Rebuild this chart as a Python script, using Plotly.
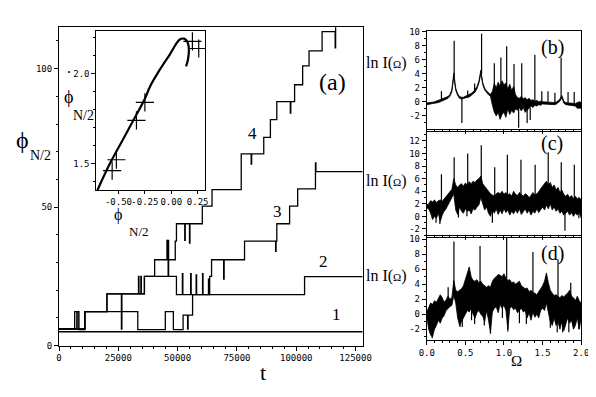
import plotly.graph_objects as go

W, H = 596, 397
# the page body keeps its default 8 px margin, so the figure starts at (8, 8)
OFF = 8
FW, FH = W - OFF, H - OFF

# ---- panel (a): phi_{N/2} against t, four step curves ----
curve1_t = [0, 128000]
curve1_v = [5.0, 5.0]

curve2_t = [0, 10900, 20200, 26300, 26500, 33500, 33700, 34500, 34700, 36000, 46000, 46200, 49500,
            52000, 52200, 55500, 55700, 57800, 58000, 60500, 60700, 63000, 63200, 103500, 128000]
curve2_v = [6.0, 12.3, 18.7, 6.0, 18.7, 25.0, 18.7, 25.0, 18.7, 25.0, 38.0, 25.0, 18.4,
            26.0, 18.4, 26.0, 18.4, 25.5, 18.4, 26.0, 18.4, 24.0, 18.4, 24.9, 24.9]

curve3_t = [0, 7500, 8400, 10900, 33200, 44800, 48200, 52300, 54200, 54400, 56300, 63500, 64300,
            69400, 69600, 78200, 91300, 91500, 91800, 97200, 100600, 108100, 108300, 128000]
curve3_v = [6.0, 12.3, 5.8, 12.3, 5.8, 12.3, 5.8, 11.0, 6.0, 11.0, 18.4, 25.0, 31.0,
            24.0, 31.0, 37.7, 34.0, 37.7, 44.0, 50.4, 56.6, 66.0, 62.8, 62.8]

curve4_t = [0, 6600, 8000, 10900, 20200, 36000, 40300, 45500, 45700, 49000,
            49500, 53000, 53200, 55000, 55200, 60400, 64500, 76800, 81000, 81200,
            86300, 89100, 91800, 97500, 97700, 99300, 102700, 105400, 110900, 116400,
            116600, 128000]
curve4_v = [6.0, 12.3, 6.0, 12.3, 18.7, 25.0, 31.0, 38.0, 31.0, 37.7,
            44.0, 38.0, 44.0, 37.0, 44.0, 50.4, 56.3, 69.2, 65.5, 69.2,
            75.2, 81.6, 88.1, 84.0, 88.1, 94.2, 101.0, 106.4, 113.4, 107.5,
            120.0, 120.0]

t_ticks = [0, 25000, 50000, 75000, 100000, 125000]
phi_ticks = [0, 50, 100]

# inset: phi_dot_{N/2} against phi_{N/2}
inset_x = [-0.70, -0.58, -0.46, -0.35, -0.25, -0.20, -0.10, -0.01, 0.04, 0.08,
           0.12, 0.15, 0.165, 0.165, 0.155, 0.14]
inset_y = [1.35, 1.50, 1.63, 1.75, 1.86, 1.93, 2.03, 2.11, 2.16, 2.19,
           2.195, 2.18, 2.15, 2.11, 2.07, 2.04]
cross_x = [-0.56, -0.52, -0.33, -0.25, 0.20, 0.26]
cross_y = [1.46, 1.52, 1.74, 1.84, 2.18, 2.14]
inset_xticks = [-0.5, -0.25, 0.0, 0.25]

# ---- panels (b)-(d): ln I(Omega) ----
omega = [0.0, 0.025, 0.05, 0.075, 0.1, 0.125, 0.15, 0.175, 0.2, 0.225,
         0.25, 0.275, 0.3, 0.325, 0.35, 0.375, 0.4, 0.425, 0.45, 0.475,
         0.5, 0.525, 0.55, 0.575, 0.6, 0.625, 0.65, 0.675, 0.7, 0.725,
         0.75, 0.775, 0.8, 0.825, 0.85, 0.875, 0.9, 0.925, 0.95, 0.975,
         1.0, 1.025, 1.05, 1.075, 1.1, 1.125, 1.15, 1.175, 1.2, 1.225,
         1.25, 1.275, 1.3, 1.325, 1.35, 1.375, 1.4, 1.425, 1.45, 1.475,
         1.5, 1.525, 1.55, 1.575, 1.6, 1.625, 1.65, 1.675, 1.7, 1.725,
         1.75, 1.775, 1.8, 1.825, 1.85, 1.875, 1.9, 1.925, 1.95, 1.975,
         2.0]

b_upper = [-0.15, -0.15, -0.10, -0.05, 0.00, 0.10, 0.15, 0.25, 0.35, 0.45,
           0.60, 0.75, 1.05, 1.75, 4.10, 1.95, 1.15, 0.75, 0.65, 0.65,
           0.80, 0.90, 1.00, 1.20, 1.40, 1.70, 2.15, 2.95, 4.50, 2.75,
           1.95, 1.55, 1.25, 1.05, 1.50, 2.60, 2.00, 2.80, 2.20, 3.00,
           2.40, 2.70, 1.80, 2.50, 1.60, 2.20, 1.00, 0.60, 0.50, 0.80,
           0.40, 0.60, 0.30, 0.50, 0.20, 0.30, 0.10, 0.20, 0.00, 0.10,
           0.00, 0.00, 0.05, -0.05, -0.05, -0.10, -0.10, -0.05, 0.15, 0.40,
           0.90, 0.10, -0.10, -0.15, -0.20, -0.20, -0.25, -0.25, -0.10, 0.00,
           -0.10]
b_lower = [-0.40, -0.40, -0.35, -0.30, -0.25, -0.15, -0.10, 0.00, 0.10, 0.20,
           0.35, 0.50, 0.80, 1.45, 3.60, 1.65, 0.90, 0.50, 0.40, 0.40,
           0.55, 0.60, 0.70, 0.90, 1.10, 1.40, 1.85, 2.65, 4.00, 2.45,
           1.70, 1.30, 1.00, 0.80, -0.50, -1.50, -2.00, -1.50, -2.50, -1.80,
           -1.50, -2.20, -1.00, -1.80, -1.20, -1.60, -1.00, -1.20, -0.80, -1.30,
           -0.80, -1.50, -1.20, -0.90, -0.60, -0.80, -0.50, -0.60, -0.40, -0.50,
           -0.30, -0.30, -0.30, -0.35, -0.35, -0.40, -0.40, -0.35, -0.15, 0.10,
           0.60, -0.20, -0.40, -0.45, -0.50, -0.50, -0.55, -0.60, -0.90, -0.90,
           -0.90]
b_spike_pos = [0.19, 0.355, 0.455, 0.53, 0.62, 0.71, 0.875, 0.96, 1.035, 1.13, 1.19,
               1.23, 1.30, 1.34, 1.40, 1.49, 1.57, 1.66, 1.74, 1.83, 1.91]
b_spike_from = [0.2, 3.5, 0.5, 0.7, 1.3, 4.0, 1.0, 1.0, 1.5, 0.5, -0.8,
                0.0, -0.8, -0.8, 0.0, 0.0, 0.0, -0.1, 0.5, -0.1, -0.2]
b_spike_to = [1.5, 8.7, -3.0, 1.6, 2.6, 9.7, 5.5, 6.3, 7.9, 5.4, -3.7,
              5.5, -3.0, -2.6, 6.7, 1.5, 1.5, 1.3, 6.3, 1.4, 1.4]

c_upper = [1.8, 2.0, 2.5, 2.3, 2.6, 2.2, 2.5, 2.6, 2.4, 2.8,
           3.2, 3.6, 4.0, 4.3, 6.0, 5.0, 4.6, 5.0, 5.2, 4.8,
           5.3, 5.0, 5.5, 5.2, 5.6, 5.4, 5.8, 6.0, 6.4, 5.2,
           4.8, 4.4, 4.0, 3.6, 3.4, 3.2, 3.6, 3.8, 3.6, 4.0,
           3.5, 3.8, 3.4, 3.6, 3.2, 4.0, 3.5, 3.3, 3.8, 3.5,
           3.2, 3.6, 3.4, 3.0, 3.3, 3.8, 3.4, 3.6, 3.9, 4.4,
           4.8, 5.2, 5.6, 5.0, 5.4, 4.6, 5.0, 4.2, 4.6, 3.8,
           4.2, 3.5, 3.2, 3.5, 3.0, 3.3, 2.8, 3.2, 2.8, 3.0,
           2.6]
c_lower = [1.3, 1.2, 0.5, -0.5, 0.0, -0.3, 0.5, -0.8, 0.2, 0.8,
           1.2, 1.8, 2.5, 3.0, 3.5, 1.0, 0.3, 1.5, 0.8, 0.5,
           1.2, 0.8, 1.0, 0.4, 1.2, 1.0, 1.5, 1.8, 3.0, 2.2,
           1.0, 1.5, 0.5, 0.0, 1.0, 0.5, 1.2, 0.3, 1.0, 0.4,
           1.2, 0.6, 1.0, 0.2, 0.8, 0.4, 1.0, 0.5, 1.2, 0.3,
           0.8, 1.2, 0.5, 1.0, 0.2, 0.8, 0.5, 1.2, 0.6, 1.0,
           1.5, 1.0, 1.8, 1.2, 2.0, 1.0, 1.5, 0.8, 1.2, 0.5,
           0.8, 0.2, 0.5, 0.8, 0.2, 0.6, 0.0, 0.5, 0.2, 0.6,
           -0.2]
c_spike_pos = [0.19, 0.355, 0.53, 0.706, 0.88, 1.044, 1.22, 1.404, 1.573, 1.742, 1.911,
               0.12, 0.17, 0.85, 1.79, 0.52, 0.41, 1.97]
c_spike_from = [2.0, 4.0, 3.0, 4.0, 2.0, 2.0, 2.0, 2.0, 3.0, 2.0, 1.5,
                1.0, 1.0, 1.5, 1.0, 1.5, 1.5, 1.0]
c_spike_to = [6.7, 9.4, 10.0, 11.3, 7.8, 9.8, 9.0, 8.2, 10.2, 8.6, 8.2,
              -1.0, -1.2, -1.0, -2.3, 0.0, -0.2, -0.3]

d_upper = [0.3, 1.0, 1.5, 1.3, 1.8, 1.6, 2.2, 2.6, 2.2, 1.6,
           1.9, 2.4, 2.0, 2.2, 4.5, 3.2, 3.0, 3.2, 3.4, 3.8,
           4.6, 5.6, 6.3, 5.0, 4.5, 4.4, 4.6, 4.2, 4.4, 4.0,
           3.8, 3.6, 3.8, 3.6, 4.4, 4.8, 5.0, 5.3, 5.2, 5.0,
           5.4, 4.8, 4.5, 4.6, 4.2, 4.3, 4.0, 4.2, 4.4, 3.8,
           3.6, 3.4, 3.5, 3.0, 3.2, 2.9, 2.8, 2.6, 3.0, 3.4,
           3.8, 4.4, 5.5, 4.2, 3.2, 2.8, 2.5, 2.6, 2.4, 2.2,
           2.5, 2.3, 2.6, 2.8, 3.2, 2.4, 2.2, 1.8, 2.4, 1.8,
           1.5]
d_lower = [-0.3, -2.0, -2.8, -3.0, -2.0, -1.5, -0.8, -1.2, -0.5, -0.2,
           0.5, 0.8, 1.0, 1.2, 2.5, 1.5, -0.5, -1.5, -1.0, -0.5,
           0.0, 0.5, 0.3, 0.8, 0.0, -0.5, 0.2, 0.5, 0.0, -0.3,
           -1.0, 0.5, -0.8, -2.4, 0.3, 0.8, 1.0, 0.2, 1.3, 0.8,
           1.2, 0.5, -2.0, 0.8, 1.0, 0.6, 0.8, 0.2, 0.5, 0.8,
           0.3, 0.5, -0.5, 0.2, -0.8, 0.3, -0.4, 0.0, -0.5, 0.5,
           0.8, 0.5, 1.5, 0.2, -1.0, -1.5, -0.5, -1.5, -1.0, -2.0,
           -1.0, -2.2, -1.5, -0.5, -1.2, -0.8, -2.0, -1.5, -0.5, -2.0,
           -0.5]
d_spike_pos = [0.277, 0.352, 0.69, 1.035, 1.375, 1.70, 1.865, 0.43, 0.46, 0.62, 0.745, 0.825,
               1.05, 1.20, 1.29, 1.60, 1.69, 1.76, 1.84, 1.97, 0.07, 0.58, 0.98]
d_spike_from = [1.5, 3.0, 2.0, 3.0, 2.0, 1.0, 1.5, 1.0, 1.0, 1.0, 1.0, 1.0,
                2.0, 1.0, 1.0, 0.5, 0.5, 0.5, 0.5, 0.5, 0.0, 2.0, 2.0]
d_spike_to = [3.6, 9.7, 9.1, 10.3, 8.3, 7.3, 4.2, -1.7, -1.7, -1.3, -1.5, -2.6,
              -2.3, -1.2, -1.3, -1.8, -2.4, -2.4, -2.4, -2.0, -3.2, -0.8, -0.5]

omega_ticks = [0.0, 0.5, 1.0, 1.5, 2.0]


def band(up, lo, xa, ya):
    return go.Scatter(x=omega + omega[::-1], y=up + lo[::-1], xaxis=xa, yaxis=ya,
                      mode="lines", fill="toself", fillcolor="black",
                      line=dict(color="black", width=0.8), hoverinfo="skip")


def spikes(pos, lo, hi, xa, ya):
    xs, ys = [], []
    for p, a, b in zip(pos, lo, hi):
        xs += [p, p, None]
        ys += [a, b, None]
    return go.Scatter(x=xs, y=ys, xaxis=xa, yaxis=ya, mode="lines",
                      line=dict(color="black", width=1.2), hoverinfo="skip")


fig = go.Figure()
for tt, vv in [(curve1_t, curve1_v), (curve2_t, curve2_v), (curve3_t, curve3_v), (curve4_t, curve4_v)]:
    fig.add_trace(go.Scatter(x=tt, y=vv, mode="lines", line_shape="hv",
                             line=dict(color="black", width=1.3), xaxis="x", yaxis="y"))

fig.add_trace(go.Scatter(x=inset_x, y=inset_y, mode="lines", line_shape="spline",
                         line=dict(color="black", width=2.2), xaxis="x2", yaxis="y2"))
fig.add_trace(go.Scatter(x=cross_x, y=cross_y, mode="markers", xaxis="x2", yaxis="y2",
                         marker=dict(symbol="cross-thin", size=13,
                                     line=dict(color="black", width=1.2))))

fig.add_trace(band(b_upper, b_lower, "x3", "y3"))
fig.add_trace(spikes(b_spike_pos, b_spike_from, b_spike_to, "x3", "y3"))
fig.add_trace(band(c_upper, c_lower, "x4", "y4"))
fig.add_trace(spikes(c_spike_pos, c_spike_from, c_spike_to, "x4", "y4"))
fig.add_trace(band(d_upper, d_lower, "x5", "y5"))
fig.add_trace(spikes(d_spike_pos, d_spike_from, d_spike_to, "x5", "y5"))

tick_font = dict(family="DejaVu Sans Mono", size=9, color="black")
axis_style = dict(showline=True, linecolor="black", linewidth=1, mirror=True,
                  ticks="outside", tickcolor="black", ticklen=4, tickwidth=1, tickangle=0,
                  showgrid=False, zeroline=False, tickfont=tick_font)


# positions below are read in page pixels of the reference picture
def dom_x(a, b):
    return [(a - OFF) / FW, (b - OFF) / FW]


def dom_y(top, bottom):
    return [1 - (bottom - OFF) / FH, 1 - (top - OFF) / FH]


def minor(step, ln=2):
    return dict(dtick=step, ticks="outside", ticklen=ln, tickcolor="black", showgrid=False)


fig.update_layout(
    width=FW, height=FH, autosize=False, showlegend=False,
    margin=dict(l=0, r=0, t=0, b=0),
    paper_bgcolor="white", plot_bgcolor="white",
    xaxis=dict(axis_style, domain=dom_x(52.3, 365), anchor="y", range=[0, 128000],
               tickvals=t_ticks, ticktext=[str(v) for v in t_ticks], minor=minor(5000)),
    yaxis=dict(axis_style, domain=dom_y(23.5, 349.5), anchor="x", range=[0, 115],
               tickvals=phi_ticks, ticktext=[str(v) for v in phi_ticks], minor=minor(10)),
    xaxis2=dict(axis_style, domain=dom_x(90.7, 202.7), anchor="y2", range=[-0.71, 0.32],
                tickvals=inset_xticks, ticktext=["%.2f" % v for v in inset_xticks], ticklen=3),
    yaxis2=dict(axis_style, domain=dom_y(27, 190.5), anchor="x2", range=[1.35, 2.24],
                tickvals=[1.5, 2.0], ticktext=["1.5", "2.0"], minor=minor(0.1)),
    xaxis3=dict(axis_style, domain=dom_x(431, 590), anchor="y3", range=[0, 2],
                tickvals=omega_ticks, showticklabels=False, minor=minor(0.1)),
    yaxis3=dict(axis_style, domain=dom_y(27, 128), anchor="x3", range=[-3.9, 10.15],
                tickvals=list(range(-2, 11, 2)), ticktext=[str(v) for v in range(-2, 11, 2)],
                minor=minor(1)),
    xaxis4=dict(axis_style, domain=dom_x(431, 590), anchor="y4", range=[0, 2],
                tickvals=omega_ticks, showticklabels=False, minor=minor(0.1)),
    yaxis4=dict(axis_style, domain=dom_y(131, 236.5), anchor="x4", range=[-3.0, 13.4],
                tickvals=list(range(-2, 13, 2)), ticktext=[str(v) for v in range(-2, 13, 2)],
                minor=minor(1)),
    xaxis5=dict(axis_style, domain=dom_x(431, 590), anchor="y5", range=[0, 2],
                tickvals=omega_ticks, ticktext=["%.1f" % v for v in omega_ticks], minor=minor(0.1)),
    yaxis5=dict(axis_style, domain=dom_y(239, 343.5), anchor="x5", range=[-3.4, 10.2],
                tickvals=list(range(-2, 11, 2)), ticktext=[str(v) for v in range(-2, 11, 2)],
                minor=minor(1)),
)

SERIF = "Liberation Serif, DejaVu Serif, serif"


def note(text, px, py, size):
    return dict(text=text, x=(px - OFF) / FW, y=1 - (py - OFF) / FH, xref="paper", yref="paper",
                showarrow=False, xanchor="center", yanchor="middle",
                font=dict(family=SERIF, size=size, color="black"))


lnI = "ln I(<span style='font-size:11px'>\u03a9</span>)"
fig.update_layout(annotations=[
    note("(a)", 334, 80, 24),
    note("4", 252, 132, 17), note("3", 277, 212, 17),
    note("2", 325, 263, 17), note("1", 338, 318, 17),
    note("\u03d5", 15, 139, 24), note("N/2", 33, 155, 14),
    note("t", 262, 377, 22),
    note("\u02d9", 63, 76, 18), note("\u03d5", 62, 95, 18), note("N/2", 78, 114, 14),
    note("\u03d5", 113, 216, 16), note("N/2", 135, 233, 13),
    note(lnI, 390, 60, 16), note(lnI, 390, 181, 16), note(lnI, 390, 278, 16),
    note("(b)", 560, 44, 20), note("(c)", 560, 143, 20), note("(d)", 560, 255, 20),
    note("\u03a9", 523, 365, 15),
])

fig.write_html("out.html")
